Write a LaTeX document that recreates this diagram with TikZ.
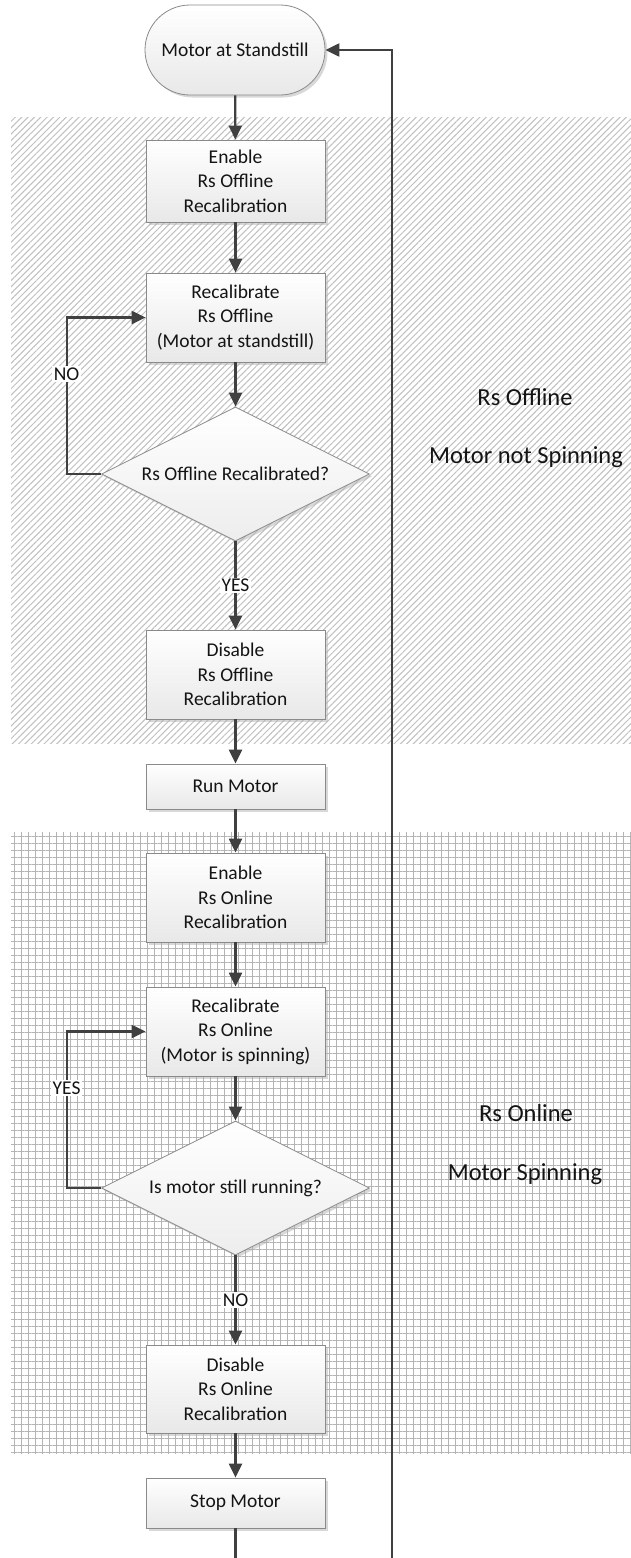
\documentclass[tikz,border=0pt]{standalone}
\usepackage{fontspec}
\setmainfont{Carlito}
\usetikzlibrary{arrows.meta,shapes.geometric,patterns.meta,shadows}
\definecolor{ln}{HTML}{404040}
\definecolor{bd}{HTML}{8A8A8A}
\definecolor{hatchc}{HTML}{C0C0C0}
\definecolor{gridc}{HTML}{B4B4B4}
\tikzset{
  txt/.style={font=\fontsize{19.5}{24.5}\selectfont, text=black!92},
  shad/.style={drop shadow={shadow xshift=2.5pt, shadow yshift=-2.5pt, fill=black!30, opacity=0.5}},
  box/.style={txt, shad, draw=bd, line width=0.8pt, top color=white, bottom color=black!9,
    minimum width=179pt, align=center, inner sep=0pt},
  term/.style={box, rounded corners=45pt, minimum width=180pt, minimum height=90pt},
  dia/.style={txt, shad, shape=diamond, aspect=2, draw=bd, line width=0.8pt, top color=white,
    bottom color=black!7, minimum width=268pt, minimum height=134pt, inner sep=0pt},
  arr/.style={draw=ln, line width=2.2pt, -{Triangle[length=14pt,width=13pt]}},
  plain/.style={draw=ln, line width=2.2pt},
  lbl/.style={txt, fill=white, inner sep=1.5pt},
  big/.style={font=\fontsize{24.5}{30}\selectfont, text=black!92},
}
\begin{document}
\begin{tikzpicture}[x=1pt,y=-1pt]
\useasboundingbox (0,0) rectangle (631,1558);
\fill[white] (0,0) rectangle (631,1558);
% regions
\fill[pattern={Lines[angle=45,distance=4.5pt,line width=1pt]}, pattern color=hatchc] (11,117) rectangle (631,743);
\fill[pattern={Hatch[angle=0,distance=7pt,line width=1pt]}, pattern color=gridc] (11,832) rectangle (631,1453);
% region texts
\node[big] (t1) at (525,397) {Rs Offline};
\node[big] (t2) at (526,457) {Motor not Spinning};
\node[big] (t3) at (526,1113) {Rs Online};
\node[big] (t4) at (525,1174) {Motor Spinning};
% nodes
\node[term] (start) at (235,50) {Motor at Standstill};
\node[box, minimum height=82pt] (en1) at (235.5,181) {Enable\\Rs Offline\\Recalibration};
\node[box, minimum height=89pt] (re1) at (235.5,317.5) {Recalibrate\\Rs Offline\\(Motor at standstill)};
\node[dia] (d1) at (235.5,474) {Rs Offline Recalibrated?};
\node[box, minimum height=89pt] (di1) at (235.5,674.5) {Disable\\Rs Offline\\Recalibration};
\node[box, minimum height=45pt] (run) at (235.5,786.5) {Run Motor};
\node[box, minimum height=89pt] (en2) at (235.5,897.5) {Enable\\Rs Online\\Recalibration};
\node[box, minimum height=89pt] (re2) at (235.5,1031.5) {Recalibrate\\Rs Online\\(Motor is spinning)};
\node[dia] (d2) at (235.5,1188) {Is motor still running?};
\node[box, minimum height=88pt] (di2) at (235.5,1389) {Disable\\Rs Online\\Recalibration};
\node[box, minimum height=50pt] (stop) at (235.5,1503) {Stop Motor};
% connectors
\draw[arr] (start) -- (en1);
\draw[arr] (en1) -- (re1);
\draw[arr] (re1) -- (d1);
\draw[arr] (d1) -- node[lbl, pos=0.5] (yes1) {YES} (di1);
\draw[arr] (d1.west) -- ++(-34.5,0) |- node[lbl, pos=0.32] (no1) {NO} (re1.west);
\draw[arr] (di1) -- (run);
\draw[arr] (run) -- (en2);
\draw[arr] (en2) -- (re2);
\draw[arr] (re2) -- (d2);
\draw[arr] (d2) -- node[lbl, pos=0.5] (no2) {NO} (di2);
\draw[arr] (d2.west) -- ++(-34.5,0) |- node[lbl, pos=0.32] (yes2) {YES} (re2.west);
\draw[arr] (di2) -- (stop);
\coordinate (b1) at (235.5,1558);
\coordinate (b2) at (392,1558);
\draw[plain] (stop) -- (b1);
\draw[arr] (b2) |- (start.east);
\end{tikzpicture}
\end{document}
